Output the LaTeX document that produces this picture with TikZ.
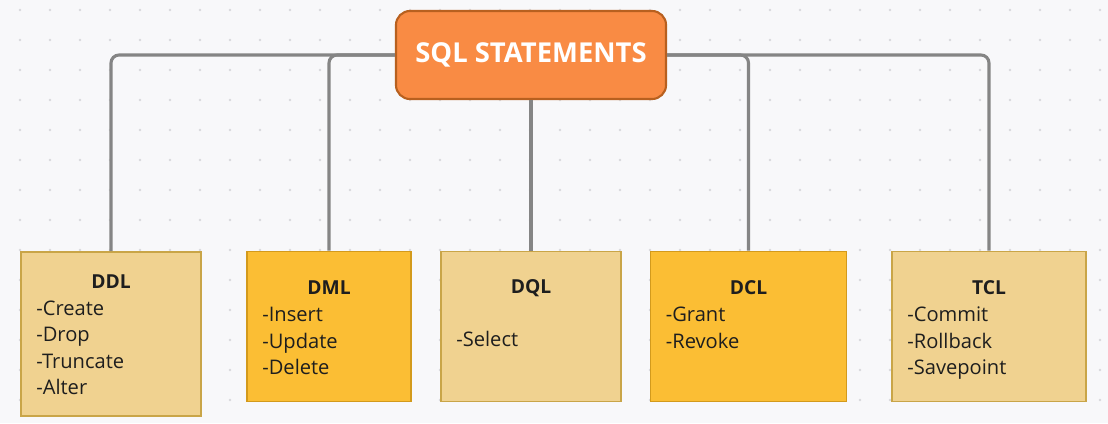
\documentclass[tikz,border=0pt]{standalone}
\usepackage{fontspec}
\setmainfont{Open Sans}
\usepackage{xcolor}
\definecolor{rootfill}{HTML}{F98B44}
\definecolor{rootline}{HTML}{B8601F}
\definecolor{tanfill}{HTML}{F0D290}
\definecolor{tanline}{HTML}{C9A548}
\definecolor{goldfill}{HTML}{FBBE34}
\definecolor{goldline}{HTML}{D39A1C}
\definecolor{bgcol}{HTML}{F8F8FA}
\definecolor{dotcol}{HTML}{D8D8DD}
\definecolor{linkcol}{HTML}{858585}
\definecolor{txtcol}{HTML}{1E1E1E}

\begin{document}
\begin{tikzpicture}[x=0.025cm, y=-0.025cm,
  root/.style = {draw=rootline, fill=rootfill, line width=1.5pt, rounded corners=0.35cm, minimum width=6.75cm, minimum height=2.2cm, text=white, font=\fontsize{19.5}{24}\selectfont\bfseries},
  tanbox/.style = {draw=tanline, fill=tanfill, line width=1.3pt, minimum height=3.75cm},
  goldbox/.style = {draw=goldline, fill=goldfill, line width=1.3pt, minimum height=3.75cm},
  title/.style = {inner sep=0pt, text=txtcol, font=\fontsize{13.7}{19}\selectfont\bfseries},
  items/.style = {inner sep=0pt, align=left, anchor=base west, text=txtcol, font=\fontsize{14.3}{18.85}\selectfont},
  link/.style = {draw=linkcol, line width=2.2pt, rounded corners=0.2cm}]

      % background with dot grid
      \fill[bgcol] (0,0) rectangle (1108,423);
      \foreach \i in {0,...,36} {
        \foreach \j in {0,...,13} {
          \fill[dotcol] (20+30*\i, 10+30*\j) circle (0.035cm);
        }
      }

      \node[root] (root) at (531,55) {SQL STATEMENTS};

      \node[tanbox, minimum width=4.5cm, minimum height=4.1cm] (ddl) at (111,334) {};
      \node[goldbox, minimum width=4.1cm] (dml) at (329,326.5) {};
      \node[tanbox, minimum width=4.5cm] (dql) at (531,326.5) {};
      \node[goldbox, minimum width=4.9cm] (dcl) at (748.5,326.5) {};
      \node[tanbox, minimum width=4.85cm] (tcl) at (989,326.5) {};

      \draw[link] (root.west) -| (ddl.north);
      \draw[link] (root.west) -| (dml.north);
      \draw[link] (root.south) -- (dql.north);
      \draw[link] (root.east) -| (dcl.north);
      \draw[link] (root.east) -| (tcl.north);

      \node[title] (ddlt) at (111,282) {DDL};
      \node[title] (dmlt) at (329,288) {DML};
      \node[title] (dqlt) at (531,288) {DQL};
      \node[title] (dclt) at (748.5,288) {DCL};
      \node[title] (tclt) at (989,288) {TCL};

      % base of an item list = its last line
      \node[items] (ddli) at ([shift={(0.4cm,-2.65cm)}]ddl.west |- ddlt.base) {-Create\\-Drop\\-Truncate\\-Alter};
      \node[items] (dmli) at ([shift={(0.4cm,-1.99cm)}]dml.west |- dmlt.base) {-Insert\\-Update\\-Delete};
      \node[items] (dqli) at ([shift={(0.4cm,-1.33cm)}]dql.west |- dqlt.base) {\mbox{}\\-Select};
      \node[items] (dcli) at ([shift={(0.4cm,-1.33cm)}]dcl.west |- dclt.base) {-Grant\\-Revoke};
      \node[items] (tcli) at ([shift={(0.4cm,-1.99cm)}]tcl.west |- tclt.base) {-Commit\\-Rollback\\-Savepoint};
    \end{tikzpicture}
\end{document}
